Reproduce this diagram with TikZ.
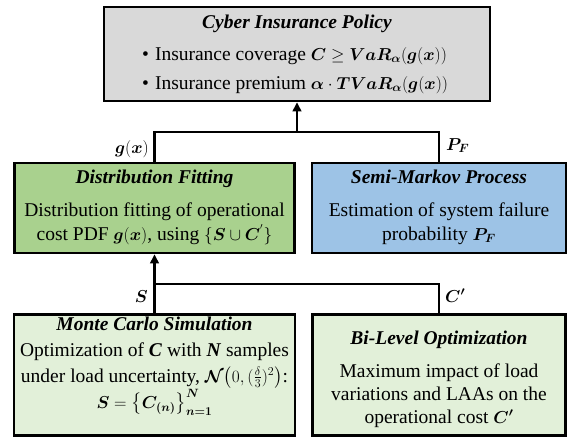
\documentclass[tikz,border=0pt]{standalone}
\usepackage{amsmath,amssymb,bm}
\usepackage{fontspec}
\setmainfont{Liberation Serif}
\usetikzlibrary{arrows.meta}

\definecolor{policygray}{HTML}{D9D9D9}
\definecolor{fitgreen}{HTML}{A9D18E}
\definecolor{markovblue}{HTML}{9DC3E6}
\definecolor{palegreen}{HTML}{E2F0D9}

% bold italic words and slightly reduced bold math
\newcommand{\bi}[1]{\textbf{\textit{#1}}}
\newcommand{\mth}[1]{{\fontsize{18}{24}\selectfont$#1$}}

\tikzset{
  box/.style={draw=black, line width=2.6pt, inner sep=0pt},
  txt/.style={anchor=base, inner sep=0pt, font=\fontsize{19.5}{24}\selectfont},
  lbl/.style={inner sep=0pt, font=\fontsize{19.5}{24}\selectfont},
  wire/.style={draw=black, line width=2.4pt},
  feed/.style={wire, -{Triangle[length=9pt,width=8.5pt]}}
}

\begin{document}
\begin{tikzpicture}[x=1pt,y=-1pt]
\useasboundingbox (0,0) rectangle (573,437);

% boxes
\node[box, fill=policygray, minimum width=386pt, minimum height=94pt] (policy) at (297,54) {};
\node[box, fill=fitgreen, minimum width=280pt, minimum height=90pt] (fit) at (154.5,208) {};
\node[box, fill=markovblue, minimum width=254pt, minimum height=90pt] (markov) at (439,208) {};
\node[box, fill=palegreen, minimum width=281pt, minimum height=121pt] (mc) at (154.5,375) {};
\node[box, fill=palegreen, minimum width=253pt, minimum height=121pt] (bilevel) at (439,375) {};

% policy text
\node[txt] (policyT) at (297,28) {\bi{Cyber Insurance Policy}};
\node[txt, anchor=base west] (policyA) at (142,60)
  {\textbullet\hspace{6pt}Insurance coverage \mth{\bm{C}\geq\bm{VaR_{\alpha}}(\bm{g}(\bm{x}))}};
\node[txt, anchor=base west] (policyB) at (142,89)
  {\textbullet\hspace{6pt}Insurance premium \mth{\bm{\alpha}\cdot\bm{TVaR_{\alpha}}(\bm{g}(\bm{x}))}};

% distribution fitting text
\node[txt] (fitT) at (154.5,183) {\bi{Distribution Fitting}};
\node[txt] (fitA) at (154.5,216) {Distribution fitting of operational};
\node[txt] (fitB) at (154.5,240) {cost PDF \mth{\bm{g}(\bm{x})}, using \mth{\{\bm{S}\cup\bm{C}^{'}\}}};

% semi-markov text
\node[txt] (markovT) at (439,183) {\bi{Semi-Markov Process}};
\node[txt] (markovA) at (439,216) {Estimation of system failure};
\node[txt] (markovB) at (439,240) {probability \mth{\bm{P_F}}};

% monte carlo text
\node[txt] (mcT) at (154.5,330) {\bi{Monte Carlo Simulation}};
\node[txt] (mcA) at (154.5,356) {Optimization of \bi{C} with \bi{N} samples};
\node[txt] (mcB) at (154.5,382)
  {under load uncertainty, \mth{\bm{\mathcal{N}}\bigl(0,(\tfrac{\delta}{3})^2\bigr)}:};
\node[txt] (mcC) at (154.5,408) {\mth{\bm{S}=\bigl\{\bm{C_{(n)}}\bigr\}_{\bm{n=1}}^{\bm{N}}}};

% bi-level text
\node[txt] (blT) at (439,344) {\bi{Bi-Level Optimization}};
\node[txt] (blA) at (439,377) {Maximum impact of load};
\node[txt] (blB) at (439,400) {variations and LAAs on the};
\node[txt] (blC) at (439,423) {operational cost \mth{\bm{C'}}};

% connectors
\coordinate (jtop) at (297,132);
\coordinate (jlow) at (297,284);
\draw[wire] (fit.north) |- (jtop) -| (markov.north);
\draw[feed] (jtop) -- (policy.south);
\draw[wire] (mc.north) |- (jlow) -| (bilevel.north);
\draw[feed] (mc.north |- jlow) -- (fit.south);

% connector labels
\node[lbl, anchor=base east] (lg) at (149,153) {\mth{\bm{g}(\bm{x})}};
\node[lbl, anchor=base west] (lp) at (446,150) {\mth{\bm{P_F}}};
\node[lbl, anchor=base east] (ls) at (148,302) {\mth{\bm{S}}};
\node[lbl, anchor=base west] (lc) at (445,302) {\mth{\bm{C'}}};
\end{tikzpicture}
\end{document}
